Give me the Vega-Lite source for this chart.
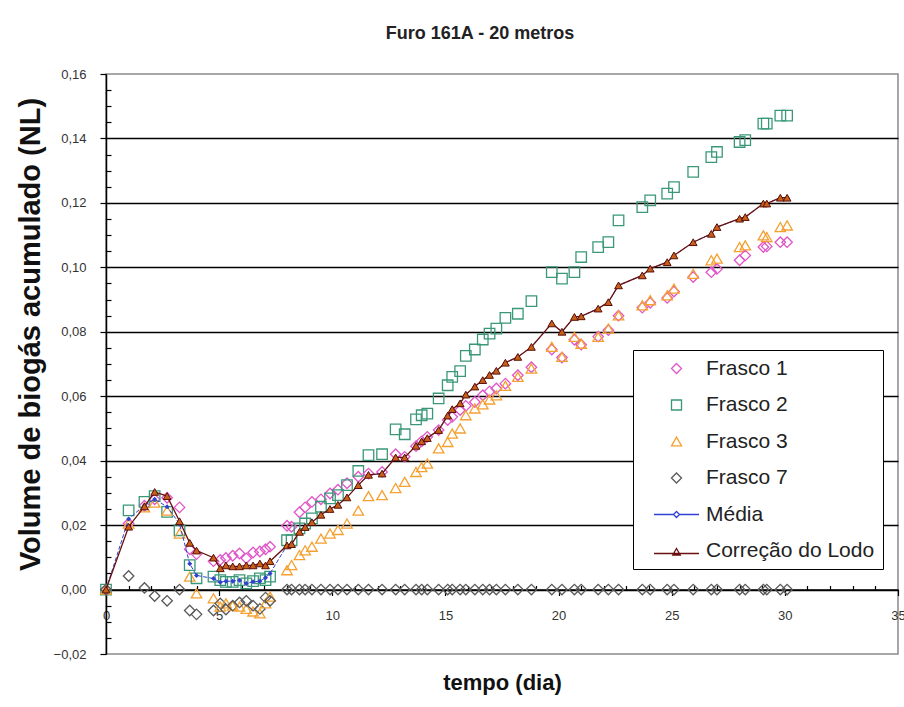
{
  "$schema": "https://vega.github.io/schema/vega-lite/v6.json",
  "width": 792,
  "height": 580,
  "autosize": {"type": "none"},
  "padding": {"left": 106, "top": 74, "right": 6, "bottom": 53},
  "background": "white",
  "title": {
    "text": "Furo 161A - 20 metros",
    "font": "Liberation Sans",
    "fontSize": 18,
    "fontWeight": "bold",
    "color": "#222222",
    "offset": 25,
    "dx": -22
  },
  "config": {
    "font": "Liberation Sans",
    "view": {"stroke": "#8a8a8a", "strokeWidth": 1.5}
  },
  "data": {
    "values": [
      {"t": 0, "frasco1": 0, "frasco2": 0, "frasco3": 0, "frasco7": 0, "media": 0, "correcao": 0},
      {"t": 1.0, "frasco1": 0.0205, "frasco2": 0.0246, "frasco3": 0.0205, "frasco7": 0.0042, "media": 0.0219, "correcao": 0.0195},
      {"t": 1.7, "frasco1": 0.026, "frasco2": 0.0272, "frasco3": 0.0255, "frasco7": 0.0005, "media": 0.0262, "correcao": 0.0258},
      {"t": 2.15, "frasco1": 0.028, "frasco2": 0.029, "frasco3": 0.027, "frasco7": -0.002, "media": 0.028, "correcao": 0.0303},
      {"t": 2.7, "frasco1": 0.0285, "frasco2": 0.0241, "frasco3": 0.0245, "frasco7": -0.0035, "media": 0.0257, "correcao": 0.029},
      {"t": 3.25, "frasco1": 0.0255, "frasco2": 0.0184, "frasco3": 0.0174, "frasco7": 0, "media": 0.0204, "correcao": 0.0212},
      {"t": 3.7, "frasco1": 0.0125, "frasco2": 0.0076, "frasco3": 0.004, "frasco7": -0.0065, "media": 0.008, "correcao": 0.0145},
      {"t": 4.0, "frasco1": 0.011, "frasco2": 0.0035, "frasco3": -0.0012, "frasco7": -0.0077, "media": 0.0044, "correcao": 0.0121},
      {"t": 4.75, "frasco1": 0.0088, "frasco2": 0.004, "frasco3": -0.0027, "frasco7": -0.0065, "media": 0.0034, "correcao": 0.0099},
      {"t": 5.05, "frasco1": 0.0092, "frasco2": 0.0029, "frasco3": -0.0053, "frasco7": -0.0043, "media": 0.0023, "correcao": 0.0066},
      {"t": 5.3, "frasco1": 0.0098, "frasco2": 0.0024, "frasco3": -0.0043, "frasco7": -0.0062, "media": 0.0026, "correcao": 0.0075},
      {"t": 5.6, "frasco1": 0.0105, "frasco2": 0.0024, "frasco3": -0.005, "frasco7": -0.005, "media": 0.0026, "correcao": 0.0072},
      {"t": 5.9, "frasco1": 0.0112, "frasco2": 0.0029, "frasco3": -0.0053, "frasco7": -0.004, "media": 0.0029, "correcao": 0.0072},
      {"t": 6.2, "frasco1": 0.0097, "frasco2": 0.0019, "frasco3": -0.006, "frasco7": -0.0035, "media": 0.0019, "correcao": 0.0075},
      {"t": 6.5, "frasco1": 0.0115, "frasco2": 0.0026, "frasco3": -0.0068, "frasco7": -0.005, "media": 0.0024, "correcao": 0.0075},
      {"t": 6.8, "frasco1": 0.0118, "frasco2": 0.0035, "frasco3": -0.0074, "frasco7": -0.006, "media": 0.0026, "correcao": 0.0081},
      {"t": 7.05, "frasco1": 0.0125, "frasco2": 0.0029, "frasco3": -0.0043, "frasco7": -0.0025, "media": 0.0037, "correcao": 0.0075},
      {"t": 7.25, "frasco1": 0.0133, "frasco2": 0.004, "frasco3": -0.0022, "frasco7": -0.0035, "media": 0.005, "correcao": 0.0088},
      {"t": 8.0, "frasco1": 0.0198, "frasco2": 0.0153, "frasco3": 0.006, "frasco7": 0, "media": 0.0137, "correcao": 0.0137},
      {"t": 8.2, "frasco1": 0.0195, "frasco2": 0.0153, "frasco3": 0.0076, "frasco7": 0, "media": 0.0141, "correcao": 0.0141},
      {"t": 8.55, "frasco1": 0.024, "frasco2": 0.019, "frasco3": 0.0107, "frasco7": 0, "media": 0.0179, "correcao": 0.0179},
      {"t": 8.8, "frasco1": 0.0255, "frasco2": 0.0205, "frasco3": 0.0122, "frasco7": 0, "media": 0.0194, "correcao": 0.0194},
      {"t": 9.1, "frasco1": 0.0272, "frasco2": 0.0221, "frasco3": 0.0133, "frasco7": 0, "media": 0.0209, "correcao": 0.0209},
      {"t": 9.5, "frasco1": 0.028, "frasco2": 0.0257, "frasco3": 0.0158, "frasco7": 0, "media": 0.0232, "correcao": 0.0232},
      {"t": 9.9, "frasco1": 0.0298, "frasco2": 0.0283, "frasco3": 0.0174, "frasco7": 0, "media": 0.025, "correcao": 0.025},
      {"t": 10.25, "frasco1": 0.031, "frasco2": 0.0293, "frasco3": 0.0185, "frasco7": 0, "media": 0.0263, "correcao": 0.0263},
      {"t": 10.65, "frasco1": 0.033, "frasco2": 0.0324, "frasco3": 0.0205, "frasco7": 0, "media": 0.0286, "correcao": 0.0286},
      {"t": 11.15, "frasco1": 0.035, "frasco2": 0.0368, "frasco3": 0.0245, "frasco7": 0, "media": 0.0324, "correcao": 0.0324},
      {"t": 11.6, "frasco1": 0.036, "frasco2": 0.0417, "frasco3": 0.029, "frasco7": 0, "media": 0.0356, "correcao": 0.0356},
      {"t": 12.2, "frasco1": 0.0365, "frasco2": 0.042, "frasco3": 0.0293, "frasco7": 0, "media": 0.036, "correcao": 0.036},
      {"t": 12.8, "frasco1": 0.042, "frasco2": 0.0497, "frasco3": 0.0315, "frasco7": 0, "media": 0.041, "correcao": 0.041},
      {"t": 13.2, "frasco1": 0.0412, "frasco2": 0.0482, "frasco3": 0.0334, "frasco7": 0, "media": 0.041, "correcao": 0.041},
      {"t": 13.7, "frasco1": 0.0445, "frasco2": 0.0528, "frasco3": 0.0365, "frasco7": 0, "media": 0.0446, "correcao": 0.0446},
      {"t": 13.95, "frasco1": 0.046, "frasco2": 0.0541, "frasco3": 0.038, "frasco7": 0, "media": 0.046, "correcao": 0.046},
      {"t": 14.2, "frasco1": 0.0474, "frasco2": 0.0546, "frasco3": 0.0391, "frasco7": 0, "media": 0.047, "correcao": 0.047},
      {"t": 14.7, "frasco1": 0.0495, "frasco2": 0.0593, "frasco3": 0.0438, "frasco7": 0, "media": 0.0495, "correcao": 0.0495},
      {"t": 15.1, "frasco1": 0.0526, "frasco2": 0.0634, "frasco3": 0.0458, "frasco7": 0, "media": 0.054, "correcao": 0.054},
      {"t": 15.3, "frasco1": 0.0536, "frasco2": 0.066, "frasco3": 0.0484, "frasco7": 0, "media": 0.056, "correcao": 0.056},
      {"t": 15.65, "frasco1": 0.0557, "frasco2": 0.0678, "frasco3": 0.05, "frasco7": 0, "media": 0.0578, "correcao": 0.0578},
      {"t": 15.9, "frasco1": 0.057, "frasco2": 0.0725, "frasco3": 0.0541, "frasco7": 0, "media": 0.0605, "correcao": 0.0605},
      {"t": 16.3, "frasco1": 0.0582, "frasco2": 0.0745, "frasco3": 0.0562, "frasco7": 0, "media": 0.063, "correcao": 0.063},
      {"t": 16.65, "frasco1": 0.0603, "frasco2": 0.0776, "frasco3": 0.0575, "frasco7": 0, "media": 0.065, "correcao": 0.065},
      {"t": 16.95, "frasco1": 0.0615, "frasco2": 0.0794, "frasco3": 0.059, "frasco7": 0, "media": 0.0666, "correcao": 0.0666},
      {"t": 17.25, "frasco1": 0.0624, "frasco2": 0.081, "frasco3": 0.0603, "frasco7": 0, "media": 0.0679, "correcao": 0.0679},
      {"t": 17.65, "frasco1": 0.0639, "frasco2": 0.0843, "frasco3": 0.0632, "frasco7": 0, "media": 0.0704, "correcao": 0.0704},
      {"t": 18.2, "frasco1": 0.0665, "frasco2": 0.0856, "frasco3": 0.066, "frasco7": 0, "media": 0.0722, "correcao": 0.0722},
      {"t": 18.8, "frasco1": 0.069, "frasco2": 0.0895, "frasco3": 0.0686, "frasco7": 0, "media": 0.0753, "correcao": 0.0753},
      {"t": 19.7, "frasco1": 0.0745, "frasco2": 0.0985, "frasco3": 0.0753, "frasco7": 0, "media": 0.0826, "correcao": 0.0826},
      {"t": 20.15, "frasco1": 0.072, "frasco2": 0.0965, "frasco3": 0.0722, "frasco7": 0, "media": 0.08, "correcao": 0.08},
      {"t": 20.7, "frasco1": 0.0775, "frasco2": 0.0985, "frasco3": 0.0784, "frasco7": 0, "media": 0.0846, "correcao": 0.0846},
      {"t": 21.0, "frasco1": 0.076, "frasco2": 0.1032, "frasco3": 0.0763, "frasco7": 0, "media": 0.0848, "correcao": 0.0848},
      {"t": 21.75, "frasco1": 0.0785, "frasco2": 0.1063, "frasco3": 0.0784, "frasco7": 0, "media": 0.0872, "correcao": 0.0872},
      {"t": 22.2, "frasco1": 0.0805, "frasco2": 0.1078, "frasco3": 0.081, "frasco7": 0, "media": 0.0892, "correcao": 0.0892},
      {"t": 22.65, "frasco1": 0.085, "frasco2": 0.1146, "frasco3": 0.0851, "frasco7": 0, "media": 0.0944, "correcao": 0.0944},
      {"t": 23.7, "frasco1": 0.0875, "frasco2": 0.1187, "frasco3": 0.0882, "frasco7": 0, "media": 0.0975, "correcao": 0.0975},
      {"t": 24.05, "frasco1": 0.089, "frasco2": 0.1208, "frasco3": 0.0898, "frasco7": 0, "media": 0.0996, "correcao": 0.0996},
      {"t": 24.8, "frasco1": 0.0905, "frasco2": 0.1229, "frasco3": 0.0913, "frasco7": 0, "media": 0.1016, "correcao": 0.1016},
      {"t": 25.1, "frasco1": 0.0925, "frasco2": 0.1249, "frasco3": 0.0934, "frasco7": 0, "media": 0.1037, "correcao": 0.1037},
      {"t": 25.95, "frasco1": 0.097, "frasco2": 0.1296, "frasco3": 0.098, "frasco7": 0, "media": 0.1078, "correcao": 0.1078},
      {"t": 26.75, "frasco1": 0.0985, "frasco2": 0.1342, "frasco3": 0.1022, "frasco7": 0, "media": 0.1104, "correcao": 0.1104},
      {"t": 27.0, "frasco1": 0.0995, "frasco2": 0.1358, "frasco3": 0.1027, "frasco7": 0, "media": 0.1125, "correcao": 0.1125},
      {"t": 28.0, "frasco1": 0.1022, "frasco2": 0.1389, "frasco3": 0.1063, "frasco7": 0, "media": 0.1151, "correcao": 0.1151},
      {"t": 28.25, "frasco1": 0.1037, "frasco2": 0.1395, "frasco3": 0.1068, "frasco7": 0, "media": 0.1156, "correcao": 0.1156},
      {"t": 29.05, "frasco1": 0.1063, "frasco2": 0.1446, "frasco3": 0.1099, "frasco7": 0, "media": 0.1198, "correcao": 0.1198},
      {"t": 29.2, "frasco1": 0.1065, "frasco2": 0.1446, "frasco3": 0.1094, "frasco7": 0, "media": 0.1198, "correcao": 0.1198},
      {"t": 29.8, "frasco1": 0.1078, "frasco2": 0.1471, "frasco3": 0.1125, "frasco7": 0, "media": 0.1216, "correcao": 0.1216},
      {"t": 30.1, "frasco1": 0.1078, "frasco2": 0.1471, "frasco3": 0.113, "frasco7": 0, "media": 0.1216, "correcao": 0.1216}
    ]
  },
  "transform": [
    {"fold": ["frasco1", "frasco2", "frasco3", "frasco7", "media", "correcao"], "as": ["serie", "v"]}
  ],
  "encoding": {
    "x": {
      "field": "t",
      "type": "quantitative",
      "scale": {"domain": [0, 35], "nice": false},
      "axis": {
        "title": "tempo (dia)",
        "titleFont": "Liberation Sans",
        "titleFontSize": 22,
        "titleFontWeight": "bold",
        "titleColor": "#111111",
        "titlePadding": 50,
        "offset": -64.5,
        "values": [0, 1, 2, 3, 4, 5, 6, 7, 8, 9, 10, 11, 12, 13, 14, 15, 16, 17, 18, 19, 20, 21, 22, 23, 24, 25, 26, 27, 28, 29, 30, 31, 32, 33, 34, 35],
        "labelExpr": "datum.value % 5 == 0 ? datum.label : ''",
        "labelFontSize": 13,
        "labelColor": "#333333",
        "labelPadding": 14,
        "labelFlush": false,
        "labelOverlap": false,
        "domainColor": "#000000",
        "domainWidth": 1.5,
        "tickColor": "#000000",
        "tickWidth": 1.2,
        "tickSize": {"condition": {"test": "datum.value % 5 == 0", "value": 6}, "value": -4},
        "grid": false
      }
    },
    "y": {
      "field": "v",
      "type": "quantitative",
      "scale": {"domain": [-0.02, 0.16], "nice": false},
      "axis": {
        "title": "Volume de biogás acumulado (NL)",
        "titleFont": "Liberation Sans",
        "titleFontSize": 29,
        "titleFontWeight": "bold",
        "titleColor": "#111111",
        "titleX": -76,
        "titleY": 260,
        "titleAngle": 270,
        "titleAlign": "center",
        "titleBaseline": "middle",
        "values": [-0.02, -0.015, -0.01, -0.005, 0, 0.005, 0.01, 0.015, 0.02, 0.025, 0.03, 0.035, 0.04, 0.045, 0.05, 0.055, 0.06, 0.065, 0.07, 0.075, 0.08, 0.085, 0.09, 0.095, 0.1, 0.105, 0.11, 0.115, 0.12, 0.125, 0.13, 0.135, 0.14, 0.145, 0.15, 0.155, 0.16],
        "labelExpr": "abs(round(datum.value * 1000)) % 20 == 0 ? replace(format(datum.value, '.2f'), '.', ',') : ''",
        "labelFontSize": 13,
        "labelColor": "#333333",
        "labelPadding": 14,
        "domainColor": "#000000",
        "domainWidth": 1.5,
        "tickColor": "#000000",
        "tickWidth": 1.2,
        "tickSize": {"condition": {"test": "abs(round(datum.value * 1000)) % 20 == 0", "value": 6}, "value": -5},
        "grid": true,
        "gridColor": "#000000",
        "gridWidth": 1.6,
        "gridOpacity": {"condition": {"test": "abs(round(datum.value * 1000)) % 20 == 0 && datum.value > -0.015 && datum.value < 0.155", "value": 1}, "value": 0}
      }
    }
  },
  "layer": [
    {
      "transform": [{"filter": "datum.serie != 'media' && datum.serie != 'correcao'"}],
      "mark": {"type": "point", "filled": false, "strokeWidth": 1.3, "opacity": 1, "size": 110},
      "encoding": {
        "color": {
          "field": "serie",
          "type": "nominal",
          "scale": {
            "domain": ["frasco1", "frasco2", "frasco3", "frasco7", "media", "correcao"],
            "range": ["#e055c8", "#3a9878", "#f5a030", "#5a5a5a", "#3040d0", "#6a1010"]
          },
          "legend": {
            "title": null,
            "orient": "none",
            "legendX": 527,
            "legendY": 276,
            "labelExpr": "datum.value == 'frasco1' ? 'Frasco 1' : datum.value == 'frasco2' ? 'Frasco 2' : datum.value == 'frasco3' ? 'Frasco 3' : datum.value == 'frasco7' ? 'Frasco 7' : datum.value == 'media' ? 'Média' : 'Correção do Lodo'",
            "labelFont": "Liberation Sans",
            "labelFontSize": 21,
            "labelColor": "#222222",
            "labelLimit": 0,
            "labelOffset": 19,
            "symbolOffset": 25,
            "symbolSize": 100,
            "symbolStrokeWidth": 1.3,
            "padding": 8,
            "rowPadding": 14.5,
            "strokeColor": "#000000",
            "fillColor": "#ffffff",
            "encode": {
              "legend": {"update": {"strokeWidth": {"value": 1.5}}},
              "symbols": {
                "update": {
                  "fill": {"signal": "datum.value == 'media' ? '#3040d0' : datum.value == 'correcao' ? '#c8601a' : 'transparent'"}
                }
              }
            }
          }
        },
        "shape": {
          "field": "serie",
          "type": "nominal",
          "scale": {
            "domain": ["frasco1", "frasco2", "frasco3", "frasco7", "media", "correcao"],
            "range": ["diamond", "square", "triangle-up", "diamond", "M-4.5,0H-0.6M0.6,0H4.5M0,-0.6L0.6,0L0,0.6L-0.6,0Z", "M-4.5,0.5H4.5M0,-0.5L0.75,0.8L-0.75,0.8Z"]
          }
        }
      }
    },
    {
      "transform": [{"filter": "datum.serie == 'media'"}],
      "mark": {"type": "line", "color": "#3040d0", "strokeWidth": 1, "strokeDash": [4, 2]},
      "encoding": {}
    },
    {
      "transform": [{"filter": "datum.serie == 'media'"}],
      "mark": {"type": "point", "shape": "diamond", "filled": true, "color": "#3040d0", "size": 25, "opacity": 1},
      "encoding": {}
    },
    {
      "transform": [{"filter": "datum.serie == 'correcao'"}],
      "mark": {"type": "line", "color": "#6a1010", "strokeWidth": 1.3},
      "encoding": {}
    },
    {
      "transform": [{"filter": "datum.serie == 'correcao'"}],
      "mark": {"type": "point", "shape": "triangle-up", "filled": true, "fill": "#c8601a", "stroke": "#5a1008", "strokeWidth": 1, "size": 60, "opacity": 1},
      "encoding": {}
    }
  ]
}
